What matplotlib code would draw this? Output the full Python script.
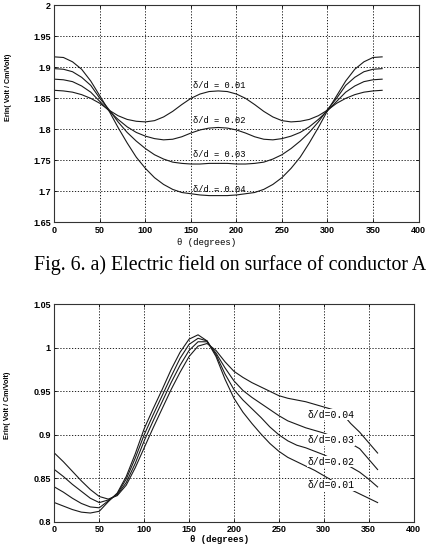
import matplotlib
matplotlib.use("Agg")
import matplotlib.pyplot as plt

# Angles (degrees) shared by all curves
THETA = list(range(0, 361, 10))

# Fig 6 a) - conductor A, one list per delta/d
top_001 = [1.863, 1.862, 1.860, 1.856, 1.850, 1.842, 1.831, 1.822, 1.816, 1.813,
           1.812, 1.814, 1.820, 1.829, 1.840, 1.850, 1.857, 1.861, 1.862,
           1.861, 1.857, 1.850, 1.840, 1.829, 1.820, 1.814, 1.812, 1.813, 1.816,
           1.822, 1.831, 1.842, 1.850, 1.856, 1.860, 1.862, 1.863]
top_002 = [1.881, 1.880, 1.877, 1.870, 1.860, 1.845, 1.830, 1.816, 1.804, 1.795,
           1.789, 1.785, 1.783, 1.784, 1.788, 1.794, 1.799, 1.802, 1.803,
           1.802, 1.799, 1.794, 1.788, 1.784, 1.783, 1.785, 1.789, 1.795, 1.804,
           1.816, 1.830, 1.845, 1.860, 1.870, 1.877, 1.880, 1.881]
top_003 = [1.898, 1.897, 1.893, 1.884, 1.871, 1.850, 1.832, 1.812, 1.795, 1.781,
           1.769, 1.759, 1.752, 1.747, 1.745, 1.744, 1.744, 1.745, 1.745,
           1.745, 1.744, 1.744, 1.745, 1.747, 1.752, 1.759, 1.769, 1.781, 1.795,
           1.812, 1.832, 1.850, 1.871, 1.884, 1.893, 1.897, 1.898]
top_004 = [1.917, 1.916, 1.909, 1.897, 1.878, 1.854, 1.830, 1.803, 1.778, 1.755,
           1.737, 1.722, 1.711, 1.703, 1.698, 1.696, 1.694, 1.693, 1.693,
           1.693, 1.694, 1.696, 1.698, 1.703, 1.711, 1.722, 1.737, 1.755, 1.778,
           1.803, 1.830, 1.854, 1.878, 1.897, 1.909, 1.916, 1.917]

# second panel
bot_001 = [0.822, 0.818, 0.814, 0.811, 0.810, 0.812, 0.823, 0.833, 0.852, 0.878,
           0.907, 0.930, 0.952, 0.975, 0.995, 1.010, 1.015, 1.008, 0.990,
           0.964, 0.942, 0.926, 0.913, 0.901, 0.890, 0.881, 0.874, 0.869, 0.864,
           0.859, 0.853, 0.847, 0.842, 0.837, 0.832, 0.827, 0.822]
bot_002 = [0.840, 0.834, 0.827, 0.821, 0.817, 0.816, 0.824, 0.832, 0.849, 0.873,
           0.900, 0.923, 0.945, 0.967, 0.988, 1.004, 1.011, 1.008, 0.992,
           0.970, 0.952, 0.940, 0.930, 0.920, 0.909, 0.900, 0.893, 0.888, 0.885,
           0.881, 0.877, 0.872, 0.867, 0.863, 0.857, 0.849, 0.840]
bot_003 = [0.860, 0.852, 0.843, 0.835, 0.827, 0.822, 0.825, 0.831, 0.845, 0.867,
           0.893, 0.916, 0.938, 0.960, 0.980, 0.997, 1.007, 1.007, 0.994,
           0.977, 0.962, 0.951, 0.943, 0.936, 0.929, 0.922, 0.916, 0.912, 0.908,
           0.905, 0.902, 0.898, 0.894, 0.890, 0.884, 0.872, 0.860]
bot_004 = [0.879, 0.869, 0.858, 0.847, 0.837, 0.829, 0.826, 0.830, 0.842, 0.862,
           0.885, 0.908, 0.930, 0.952, 0.972, 0.990, 1.002, 1.005, 0.997,
           0.984, 0.973, 0.966, 0.960, 0.955, 0.950, 0.945, 0.942, 0.940, 0.938,
           0.935, 0.932, 0.929, 0.925, 0.913, 0.903, 0.891, 0.879]

top_labels = ["\u03b4/d = 0.01", "\u03b4/d = 0.02", "\u03b4/d = 0.03", "\u03b4/d = 0.04"]
top_label_y = [1.871, 1.814, 1.759, 1.703]
bot_labels = ["\u03b4/d=0.04", "\u03b4/d=0.03", "\u03b4/d=0.02", "\u03b4/d=0.01"]
bot_label_y = [0.923, 0.894, 0.869, 0.842]

XTICKS = [0, 50, 100, 150, 200, 250, 300, 350, 400]
TOP_YTICKS = [1.65, 1.7, 1.75, 1.8, 1.85, 1.9, 1.95, 2]
BOT_YTICKS = [0.8, 0.85, 0.9, 0.95, 1, 1.05]

YLABEL = "Erin( Volt / Cm/Volt)"
XLABEL = "\u03b8 (degrees)"
CAPTION = "Fig. 6. a) Electric field on surface of conductor A"

LINE_COLOR = "#1a1a1a"
TICK_FONT = dict(family="Liberation Sans", size=6.5, weight="bold")


def style_axes(ax, yticks):
    ax.set_xlim(0, 400)
    ax.set_ylim(yticks[0], yticks[-1])
    ax.set_xticks(XTICKS)
    ax.set_yticks(yticks)
    ax.set_xticklabels([str(t) for t in XTICKS], **TICK_FONT)
    ax.set_yticklabels([f"{t:g}" for t in yticks], **TICK_FONT)
    ax.grid(True, color="black", linestyle=(0, (1.5, 2)), linewidth=0.6)
    ax.tick_params(direction="in", length=2.5, width=0.6, pad=2.5,
                   top=True, right=True)
    for sp in ax.spines.values():
        sp.set_linewidth(0.8)
        sp.set_color("#333333")


fig = plt.figure(figsize=(4.26, 5.46), dpi=100)

# ---- top panel
ax1 = fig.add_axes([0.1275, 0.593, 0.855, 0.397])
for ys in [top_001, top_002, top_003, top_004]:
    ax1.plot(THETA, ys, color=LINE_COLOR, linewidth=0.8)
for txt, y in zip(top_labels, top_label_y):
    ax1.text(152, y, txt, fontsize=6.3, family="Liberation Mono",
             va="center", ha="left")
style_axes(ax1, TOP_YTICKS)
ax1.set_ylabel(YLABEL, fontsize=5.2, family="Liberation Sans", weight="bold")
ax1.yaxis.set_label_coords(-0.115, 0.623)
ax1.set_xlabel(XLABEL, fontsize=6.5, family="Liberation Mono")
ax1.xaxis.set_label_coords(0.418, -0.075)

# caption between the panels
fig.text(0.079, 0.515, CAPTION, fontsize=14.3, family="Liberation Serif",
         ha="left", va="center")

# ---- bottom panel
ax2 = fig.add_axes([0.1277, 0.0445, 0.843, 0.398])
for ys in [bot_001, bot_002, bot_003, bot_004]:
    ax2.plot(THETA, ys, color=LINE_COLOR, linewidth=0.8)
for txt, y in zip(bot_labels, bot_label_y):
    ax2.text(282, y, txt, fontsize=7, family="Liberation Mono",
             va="center", ha="left",
             bbox=dict(facecolor="white", edgecolor="none", pad=0.5))
style_axes(ax2, BOT_YTICKS)
ax2.set_ylabel(YLABEL, fontsize=5.2, family="Liberation Sans", weight="bold")
ax2.yaxis.set_label_coords(-0.12, 0.537)
ax2.set_xlabel(XLABEL, fontsize=6.5, family="Liberation Mono", weight="bold")
ax2.xaxis.set_label_coords(0.46, -0.062)

fig.savefig("out.png", dpi=100)
